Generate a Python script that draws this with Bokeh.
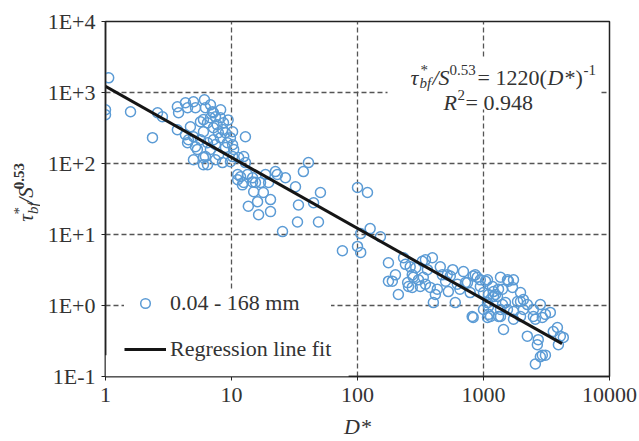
import math
from bokeh.plotting import figure
from bokeh.layouts import row
from bokeh.models import Label, Legend, LegendItem, FixedTicker, BoxAnnotation, Range1d
from bokeh.embed import file_html
from bokeh.resources import INLINE

# ---------------- data ----------------
d_star = [
    1.06, 1.0, 1.0, 1.58, 2.36, 2.59, 2.83,
    3.72, 3.80, 4.31, 4.48, 4.99, 5.18, 6.1, 6.21, 6.81,
    3.72, 4.72, 5.67, 6.45, 6.81, 7.46, 8.17, 8.64,
    4.31, 4.99, 5.99, 7.19, 7.87, 8.95, 10.2, 9.81, 12.9,
    4.48, 5.18, 6.45, 7.19, 8.17, 9.29,
    4.99, 5.99, 7.46, 6.45, 8.48, 9.81, 11.4, 12.5,
    11.2, 13.4, 12.5, 14.7,
    7.06, 7.7, 8.5, 7.46, 6.8, 5.67, 9.4, 8.2, 8.95, 10.4, 7.9, 10.2,
    5.99, 5.99, 7.19, 4.55, 5.36, 6.21,
    10.2, 12.9, 11.8, 11.2, 12.2, 14.7, 15.5, 17.0, 18.6, 19.7, 22.3, 23.1, 26.8,
    15.0, 17.9, 16.1, 20.4, 13.6, 16.4, 20.4,
    32.2, 34.0, 44.8, 50.8, 40.8, 37.2, 33.4, 49.0, 25.4,
    100, 120, 126, 152, 106, 100, 75.9, 106,
    176, 232, 262, 346, 393, 454, 693, 272, 176, 189, 211, 250, 272, 277, 327, 359,
    333, 315, 378, 471, 415, 400, 545, 526, 597, 620, 719, 784, 828, 944, 892, 1038,
    1178, 1096, 1245, 1415, 1550, 1415, 1096, 828, 1136, 1441, 1316, 1000, 944, 1316,
    1291, 1578, 1699, 1967, 2072, 1862, 1494, 1364, 1096, 1730, 2072, 2228, 2488, 2827,
    2930, 2580, 3392, 2228, 2720, 2675, 3580, 4071, 4300, 3930, 2930, 2827, 2580, 1730,
    1364, 1200, 1076, 1000, 254, 516, 860, 746, 813, 1076, 1200, 1967, 1730, 3100,
    2488, 1967, 1550, 1364, 1076,
    290, 305, 346, 500, 570, 650, 430, 240, 200, 3860, 3100,
]
tau_norm = [
    1610, 571, 486, 535, 231, 518, 455,
    629, 518, 716, 609, 740, 609, 790, 609, 670,
    299, 329, 387, 375, 441, 455, 441, 375,
    254, 238, 280, 319, 271, 271, 280, 231, 238,
    196, 172, 196, 216, 231, 196,
    113, 121, 113, 96, 103, 106, 121, 125,
    70, 70, 54, 55,
    535, 350, 300, 185, 158, 216, 410, 571, 168, 158, 133, 184,
    96, 415, 518, 216, 158, 125,
    125, 103, 65, 59, 50, 63, 54, 54, 70, 54, 77, 70, 63,
    40, 39, 29, 31, 25, 19, 21,
    47, 26, 28, 39, 103, 77, 15, 15, 11,
    46, 39, 12.1, 9.3, 10.3, 6.8, 5.9, 5.6,
    4.0, 4.7, 3.5, 4.4, 4.7, 3.5, 3.0, 2.7, 2.2, 2.2, 1.43, 2.1, 1.8, 2.5, 4.2, 3.2,
    2.5, 1.85, 1.8, 2.7, 1.43, 1.10, 2.6, 1.57, 1.10, 2.0, 2.1, 1.52, 2.6, 1.85, 2.5, 2.2,
    1.85, 1.43, 1.43, 1.7, 2.3, 1.03, 0.97, 0.68, 0.70, 0.46, 0.70, 0.88, 2.3, 1.7,
    1.34, 2.2, 1.8, 1.52, 1.21, 1.14, 1.10, 0.88, 0.75, 0.64, 0.88, 1.03, 0.88, 1.03,
    0.68, 0.64, 0.80, 0.37, 0.33, 0.28, 0.43, 0.37, 0.355, 0.28, 0.20, 0.19, 0.15, 2.3,
    2.5, 1.34, 1.10, 1.52, 1.85, 2.7, 2.7, 2.1, 0.70, 2.3, 1.57, 1.14, 0.82, 0.20,
    0.70, 0.70, 0.88, 0.70, 0.68,
    3.4, 2.3, 2.0, 2.2, 3.2, 1.7, 1.7, 3.8, 2.7, 0.49, 0.75,
]

# regression line tau*/S^0.53 = 1220 (D*)^-1
fit_d = [1.0, 4200.0]
fit_tau = [1220.0, 0.29]

x_ticks = [1, 10, 100, 1000, 10000]
x_tick_labels = ["1", "10", "100", "1000", "10000"]
y_ticks = [0.1, 1, 10, 100, 1000, 10000]
y_tick_labels = ["1E-1", "1E+0", "1E+1", "1E+2", "1E+3", "1E+4"]

series_label = "0.04 - 168 mm"
fit_label = "Regression line fit"

# ---------------- styling ----------------
FONT = "Liberation Serif"
TXT = "#333333"
BLUE = "#5B9BD5"
BIG = "22px"
SMALL = "15px"
W_LEFT = 40

p = figure(width=639 - W_LEFT, height=441, x_axis_type="log", y_axis_type="log",
           x_range=(1, 10000), y_range=(0.1, 10000),
           output_backend="svg", toolbar_location=None,
           min_border_left=105 - W_LEFT, min_border_right=30,
           min_border_top=21, min_border_bottom=64)
p.background_fill_color = "white"
p.border_fill_color = "white"
p.outline_line_color = "#222222"
p.outline_line_width = 1.5

p.xaxis.ticker = FixedTicker(ticks=x_ticks, minor_ticks=[])
p.yaxis.ticker = FixedTicker(ticks=y_ticks, minor_ticks=[])
p.xaxis.major_label_overrides = dict(zip(x_ticks, x_tick_labels))
p.yaxis.major_label_overrides = dict(zip(y_ticks, y_tick_labels))

for ax in (p.xaxis, p.yaxis):
    ax.axis_line_color = "#222222"
    ax.axis_line_width = 1.5
    ax.major_tick_line_color = "#222222"
    ax.major_tick_out = 4
    ax.major_tick_in = 0
    ax.minor_tick_out = 0
    ax.minor_tick_in = 0
    ax.major_label_text_font = FONT
    ax.major_label_text_font_size = BIG
    ax.major_label_text_color = TXT
p.xaxis.major_label_standoff = 7
p.yaxis.major_label_standoff = 6

p.xaxis.axis_label = "D*"
p.xaxis.axis_label_text_font = FONT
p.xaxis.axis_label_text_font_size = BIG
p.xaxis.axis_label_text_font_style = "italic"
p.xaxis.axis_label_text_color = TXT
p.xaxis.axis_label_standoff = 9

p.grid.grid_line_color = "#555555"
p.grid.grid_line_dash = "5 3"
p.grid.grid_line_width = 1.3

# data
r_pts = p.scatter(d_star, tau_norm, marker="circle", size=10,
                  fill_color=None, line_color=BLUE, line_width=1.5)
r_fit = p.line(fit_d, fit_tau, line_color="#151515", line_width=3)

# white boxes hiding the grid behind the equation and below the legend
p.add_layout(BoxAnnotation(left=173, right=8400, top=3170, bottom=575,
                           fill_color="white", fill_alpha=1.0, line_color=None))
p.add_layout(BoxAnnotation(left=1, right=85, top=0.2, bottom=0.1,
                           fill_color="white", fill_alpha=1.0, line_color=None))


def piece(fig, x, y, dx, dy, text, size, style="normal", angle=0.0,
          align="left", baseline="alphabetic"):
    fig.add_layout(Label(x=x, y=y, x_offset=dx, y_offset=dy, text=text,
                         text_font=FONT, text_font_size=size,
                         text_font_style=style, text_color=TXT,
                         text_align=align, text_baseline=baseline,
                         angle=angle))


# equation, anchored at (1000, 1000)
ax0, ay0 = 1000, 1000
piece(p, ax0, ay0, -73, 15, "τ", BIG, "italic")
piece(p, ax0, ay0, -63, 23, "*", SMALL)
piece(p, ax0, ay0, -64, 10, "bf", SMALL, "italic")
piece(p, ax0, ay0, -51, 15, "/S", BIG, "italic")
piece(p, ax0, ay0, -34, 23, "0.53", SMALL)
piece(p, ax0, ay0, -6, 15, "= 1220(", BIG)
piece(p, ax0, ay0, 64, 15, "D*", BIG, "italic")
piece(p, ax0, ay0, 92, 15, ")", BIG)
piece(p, ax0, ay0, 100, 23, "-1", SMALL)
piece(p, ax0, ay0, -40, -10, "R", BIG, "italic")
piece(p, ax0, ay0, -26, -2, "2", SMALL)
piece(p, ax0, ay0, -18, -10, "= 0.948", BIG)

legend = Legend(items=[LegendItem(label=series_label, renderers=[r_pts]),
                       LegendItem(label=fit_label, renderers=[r_fit])],
                location=(19, 14), margin=0, padding=8,
                glyph_width=42, glyph_height=24, spacing=20, label_standoff=4,
                background_fill_color="white", background_fill_alpha=1.0,
                border_line_color=None,
                label_text_font=FONT, label_text_font_size=BIG,
                label_text_color=TXT)
p.add_layout(legend)

# narrow strip on the left holding the rotated y-axis title (pixel-like units)
lab = figure(width=W_LEFT, height=441, x_range=Range1d(0, W_LEFT), y_range=Range1d(441, 0),
             output_backend="svg", toolbar_location=None,
             x_axis_location=None, y_axis_location=None,
             min_border=0, min_border_left=0, min_border_right=0,
             min_border_top=0, min_border_bottom=0)
lab.outline_line_color = None
lab.grid.visible = False
lab.background_fill_color = "white"
lab.border_fill_color = "white"
A = math.pi / 2
# each piece anchored at its centre (rotation-safe)
piece(lab, 25, 244, 0, 0, "τ", "21px", "italic", A, "center", "middle")
piece(lab, 18, 235, 0, 0, "*", SMALL, "normal", A, "center", "middle")
piece(lab, 32, 232, 0, 0, "bf", SMALL, "italic", A, "center", "middle")
piece(lab, 25, 216, 0, 0, "/S", "21px", "italic", A, "center", "middle")
piece(lab, 18, 192, 0, 0, "0.53", SMALL, "bold", A, "center", "middle")

layout = row(lab, p, spacing=0)
open("out.html", "w").write(file_html(layout, INLINE))
